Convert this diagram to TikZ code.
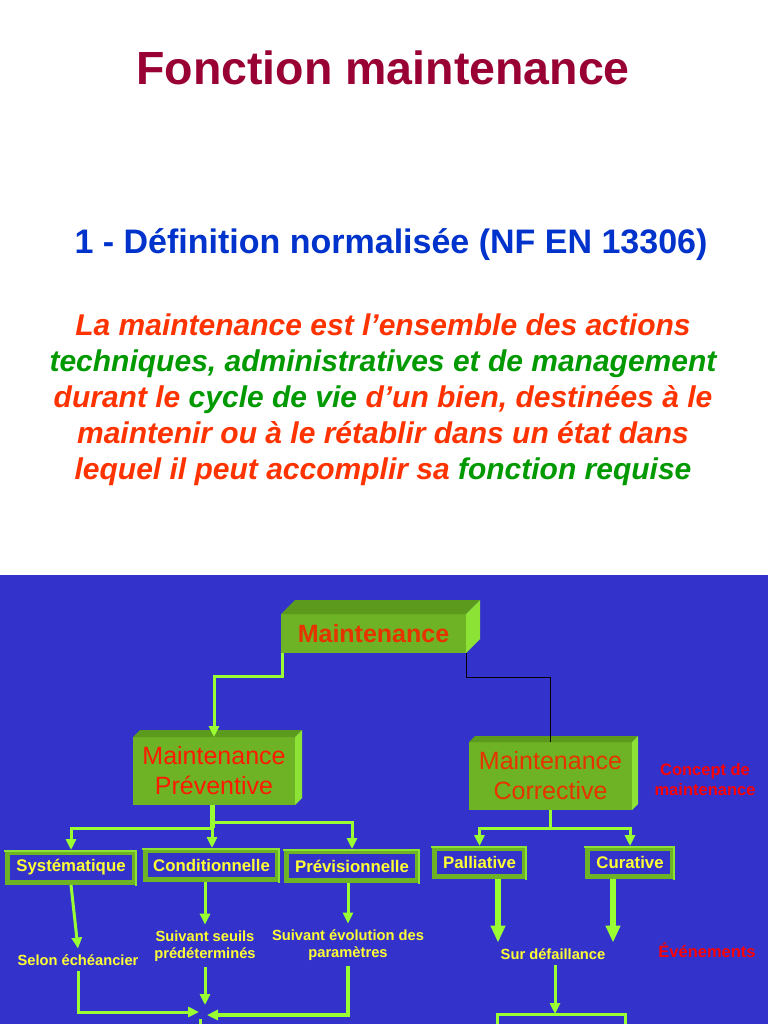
\documentclass[tikz,border=0pt]{standalone}
\usepackage{fontspec}
\setmainfont{Liberation Sans}
\usetikzlibrary{arrows.meta,calc}
\definecolor{bgblue}{HTML}{3333CC}
\definecolor{lgreen}{HTML}{99FF33}
\definecolor{frontgreen}{HTML}{6EB226}
\definecolor{topgreen}{HTML}{5C9A1E}
\definecolor{sidegreen}{HTML}{8DE236}
\definecolor{txtyellow}{HTML}{FFFF33}
\definecolor{boxred}{HTML}{E63300}
\definecolor{prered}{HTML}{FF1A00}
\definecolor{defred}{HTML}{FF3300}
\definecolor{defgreen}{HTML}{009900}
\definecolor{titlered}{HTML}{990033}
\definecolor{subblue}{HTML}{0033CC}
\definecolor{purered}{HTML}{FF0000}
\newcommand\cubefaces[2]{%
  \fill[topgreen] (#1.north west) -- ++(#2,-#2) -- ($(#1.north east)+(#2,-#2)$) -- (#1.north east) -- cycle;
  \fill[sidegreen] (#1.north east) -- ++(#2,-#2) -- ($(#1.south east)+(#2,-#2)$) -- (#1.south east) -- cycle;}
\tikzset{
  front/.style={fill=frontgreen, inner sep=0pt, outer sep=0pt},
  gline/.style={draw=lgreen, line width=3pt},
  garrow/.style={gline, -{Triangle[length=11pt,width=10pt]}},
  bigarrow/.style={draw=lgreen, line width=6.5pt, -{Triangle[length=17pt,width=14pt]}},
  smallbox/.style={fill=bgblue, draw=frontgreen, line width=5pt, outer sep=2.5pt, inner sep=0pt,
    text=txtyellow, font=\fontsize{16.8}{20}\selectfont\bfseries},
  bevel/.style={draw=sidegreen, line width=1.5pt},
  ylabel/.style={text=txtyellow, font=\fontsize{14.7}{17}\selectfont\bfseries, align=center, inner sep=1pt, outer sep=5pt},
  redlabel/.style={text=purered, font=\fontsize{16.5}{20}\selectfont\bfseries, align=center},
  defline/.style={anchor=base, font=\fontsize{30}{36}\selectfont\bfseries\itshape, inner sep=0pt}
}
\begin{document}
\begin{tikzpicture}[x=1pt,y=-1pt]
\useasboundingbox (0,0) rectangle (768,1024);
\fill[white] (0,0) rectangle (768,575);
\fill[bgblue] (0,575) rectangle (768,1024);

% titles
\node[anchor=base, text=titlered, font=\fontsize{46.5}{50}\selectfont\bfseries] (title) at (383,85) {Fonction maintenance};
\node[anchor=base, text=subblue, font=\fontsize{34}{40}\selectfont\bfseries] (sub) at (391,253) {1 - Définition normalisée (NF EN 13306)};

\node[defline, text=defred] (d1) at (383,335) {La maintenance est l’ensemble des actions};
\node[defline, text=defgreen] (d2) at (383,371) {techniques, administratives et de management};
\node[defline, text=defred] (d3) at (383,407) {durant le \textcolor{defgreen}{cycle de vie} d’un bien, destinées à le};
\node[defline, text=defred] (d4) at (383,443) {maintenir ou à le rétablir dans un état dans};
\node[defline, text=defred] (d5) at (383,479) {lequel il peut accomplir sa \textcolor{defgreen}{fonction requise}};

% 3D boxes
\node[front, minimum width=185pt, minimum height=39pt, text=boxred, font=\fontsize{25}{30}\selectfont\bfseries] (maint) at (373.5,633.5) {Maintenance};
\cubefaces{maint}{14}
\node[front, minimum width=162pt, minimum height=68pt, text=prered, font=\fontsize{25}{30}\selectfont, align=center] (pre) at (214,771) {Maintenance\\Préventive};
\cubefaces{pre}{7}
\node[front, minimum width=163pt, minimum height=68pt, text=boxred, font=\fontsize{25}{30}\selectfont, align=center] (cor) at (550.5,776) {Maintenance\\Corrective};
\cubefaces{cor}{6}

\node[redlabel] (concept) at (705,780) {Concept de\\maintenance};
\node[redlabel] (even) at (707,950) {Événements};

% small boxes
\node[smallbox, minimum width=127pt, minimum height=30pt] (sys) at (71,867.5) {Systématique};
\node[smallbox, minimum width=132pt, minimum height=29pt] (cond) at (211.5,865) {Conditionnelle};
\node[smallbox, minimum width=131pt, minimum height=29pt] (prev) at (352,866) {Prévisionnelle};
\node[smallbox, minimum width=90pt, minimum height=28pt] (pal) at (479.5,862.5) {Palliative};
\node[smallbox, minimum width=85pt, minimum height=28pt] (cur) at (630,862.5) {Curative};
\foreach \n in {sys,cond,prev,pal,cur}{
  \draw[bevel] ([shift={(-1pt,-1pt)}]\n.north west) -- ([shift={(-1pt,-1pt)}]\n.north east) -- ([shift={(-1pt,-1pt)}]\n.south east);
}

% labels
\node[ylabel] (selon) at (78,960) {Selon échéancier};
\node[ylabel] (seuils) at (205,946) {Suivant seuils\\prédéterminés};
\node[ylabel] (evol) at (348,945) {Suivant évolution des\\paramètres};
\node[ylabel] (surdef) at (553,954) {Sur défaillance};

% connectors top
\draw[garrow] ([xshift=1.5pt]maint.south west) -- ++(0,23) -| (pre.north);
\draw[black, line width=1pt] (maint.south east) -- ++(0,24) -| (cor.north);

\coordinate (pj) at (212,828);
\draw[gline, line width=5pt] (pre.south -| pj) -- (pj);
\draw[garrow] (pj) -| (sys.north);
\draw[garrow] (pj) -- (cond.north -| pj);
\draw[garrow] ([yshift=6pt]pj) -| (prev.north);

\draw[gline] (cor.south) -- ++(0,18) coordinate (cj);
\draw[garrow] (cj) -| (pal.north);
\draw[garrow] (cj) -| (cur.north);

% to labels
\draw[garrow] (sys.south) -- (selon.north);
\draw[garrow] (seuils.north |- cond.south) -- (seuils.north);
\draw[garrow] (evol.north |- prev.south) -- (evol.north);
\coordinate (pa) at (498,0);
\coordinate (ca) at (613,0);
\draw[bigarrow] (pal.south -| pa) -- (surdef.north -| pa);
\draw[bigarrow] (cur.south -| ca) -- (surdef.north -| ca);

% bottom
\coordinate (hubL) at (199,1012);
\coordinate (hubT) at (205,1005);
\coordinate (hubR) at (207,1015);
\coordinate (hubB) at (200,1019);
\coordinate (hubE) at (200,1024);
\draw[garrow] (selon.south) |- (hubL);
\draw[garrow] (seuils.south) -- (seuils.south |- hubT);
\draw[garrow, line width=4pt] (evol.south) |- (hubR);
\draw[gline] (hubB) -- (hubE);

\coordinate (sj) at (555,1014);
\coordinate (sl) at (497,1024);
\coordinate (sr) at (625,1024);
\draw[garrow] (surdef.south -| sj) -- (sj);
\draw[gline] (sl) |- (sj) -| (sr);
\end{tikzpicture}
\end{document}
